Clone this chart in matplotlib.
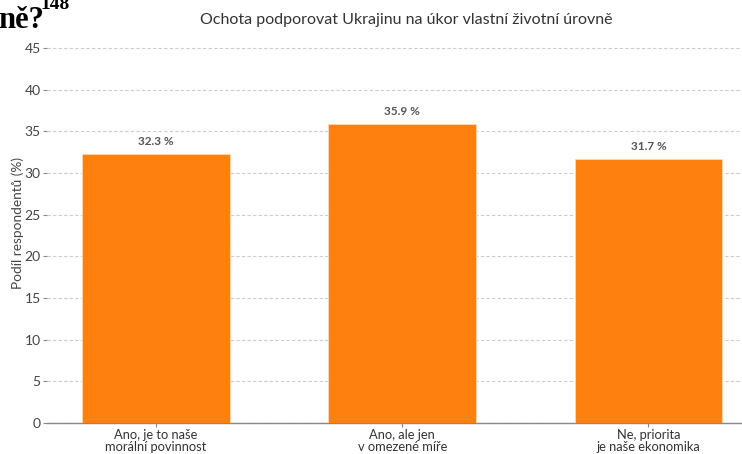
import matplotlib
matplotlib.use("Agg")
import matplotlib.pyplot as plt

categories = ["Ano, je to naše\nmorální povinnost", "Ano, ale jen\nv omezené míře", "Ne, priorita\nje naše ekonomika"]
values = [32.3, 35.9, 31.7]
yticks = [0, 5, 10, 15, 20, 25, 30, 35, 40, 45]
title = "Ochota podporovat Ukrajinu na úkor vlastní životní úrovně"
ylabel = "Podíl respondentů (%)"

W, H = 742, 454
fig = plt.figure(figsize=(W / 100, H / 100), dpi=100)
plt.rcParams['font.family'] = ['Lato', 'DejaVu Sans']

left_px, right_px = 47, 742
bottom_px, top_px = 423, 31.3
ax = fig.add_axes([left_px / W, (H - bottom_px) / H, (right_px - left_px) / W, (bottom_px - top_px) / H])

x = list(range(len(categories)))
ax.bar(x, values, width=0.6, color="#fe800f", edgecolor="#ffd9b8", linewidth=0.6, zorder=3)
for xi, v in zip(x, values):
    ax.text(xi, v + 0.8, f"{v:.1f} %", ha="center", va="bottom", fontsize=8.5,
            color="#555555", fontweight="bold")

ax.set_xlim(-0.443, 2.38)
ax.set_ylim(0, 47)
ax.set_yticks(yticks)
ax.set_xticks(x)
ax.set_xticklabels(categories, fontsize=9.3, color="#333333", linespacing=1.05)
ax.tick_params(axis="y", labelsize=10, colors="#444444", length=3, width=0.8, pad=1.5, color="#888888")
ax.tick_params(axis="x", length=3, width=0.8, pad=1.0, color="#888888")
ax.grid(axis="y", linestyle=(0, (3, 2)), color="#cccccc", linewidth=0.8, zorder=0)
for s in ["top", "right", "left"]:
    ax.spines[s].set_visible(False)
ax.spines["bottom"].set_color("#888888")
ax.spines["bottom"].set_linewidth(1.0)
ax.set_ylabel(ylabel, fontsize=9.8, color="#444444", labelpad=4)
ax.yaxis.set_label_coords(-0.033, 0.51)

fig.text(406 / W, 1 - 20 / H, title, ha="center", va="center", fontsize=11.5, color="#333333")

fig.text(-2 / W, 1 - 28 / H, "ně?", ha="left", va="baseline", fontsize=22,
         fontweight="bold", family="Liberation Serif", color="black")
fig.text(40 / W, 1 - 9 / H, "148", ha="left", va="baseline", fontsize=14,
         fontweight="bold", family="Liberation Serif", color="black")

fig.savefig("out.png", dpi=100)
